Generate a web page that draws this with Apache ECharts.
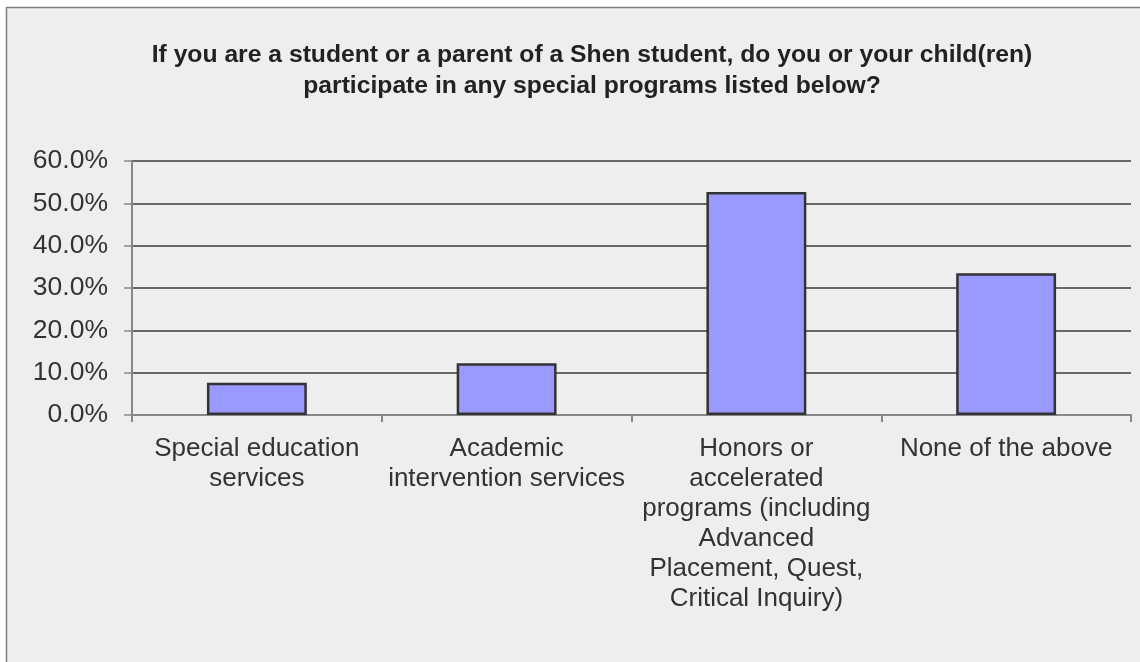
<!DOCTYPE html>
<html>
<head>
<meta charset="utf-8">
<script src="https://cdn.jsdelivr.net/npm/echarts@6/dist/echarts.min.js"></script>
<style>
html,body{margin:0;padding:0;background:#ffffff;}
#chart{width:1140px;height:662px;}
</style>
</head>
<body>
<div id="chart"></div>
<script>
const titleText = "If you are a student or a parent of a Shen student, do you or your child(ren)\nparticipate in any special programs listed below?";
const categories = [
  "Special education\nservices",
  "Academic\nintervention services",
  "Honors or\naccelerated\nprograms (including\nAdvanced\nPlacement, Quest,\nCritical Inquiry)",
  "None of the above"
];
const values = [7.6, 12.2, 52.7, 33.5];
const yTicks = { min: 0, max: 60, interval: 10 };

const chart = echarts.init(document.getElementById('chart'), null, {renderer: 'canvas'});
chart.setOption({
  backgroundColor: '#ffffff',
  animation: false,
  graphic: [{
    type: 'rect', z: -10, silent: true,
    shape: {x: 6.5, y: 7.5, width: 1300, height: 800},
    style: {fill: '#eeeeee', stroke: '#7f7f7f', lineWidth: 1.5}
  }],
  title: {
    text: titleText,
    left: 587, top: 35, textAlign: 'center',
    textStyle: {fontFamily: 'Liberation Sans', fontSize: 24.7, fontWeight: 'bold', color: '#222222', lineHeight: 31}
  },
  grid: {left: 132, right: 9, top: 161, bottom: 247, containLabel: false},
  xAxis: {
    type: 'category', data: categories,
    axisLine: {lineStyle: {color: '#888888', width: 2}},
    axisTick: {show: true, alignWithLabel: false, length: 7, lineStyle: {color: '#888888', width: 2}},
    axisLabel: {interval: 0, margin: 19, fontFamily: 'Liberation Sans', fontSize: 26, color: '#333333', lineHeight: 30}
  },
  yAxis: {
    type: 'value', min: yTicks.min, max: yTicks.max, interval: yTicks.interval,
    axisLine: {show: true, lineStyle: {color: '#888888', width: 2}},
    axisTick: {show: true, length: 8, lineStyle: {color: '#888888', width: 1.5}},
    splitLine: {show: true, lineStyle: {color: '#3a3a3a', width: 1.5}},
    axisLabel: {margin: 24, fontFamily: 'Liberation Sans', fontSize: 26.5, color: '#333333',
      formatter: v => v.toFixed(1) + '%'}
  },
  series: [{
    type: 'bar', data: values, barWidth: '40%',
    itemStyle: {color: '#9999ff', borderColor: '#333333', borderWidth: 2.5}
  }]
});
</script>
</body>
</html>
